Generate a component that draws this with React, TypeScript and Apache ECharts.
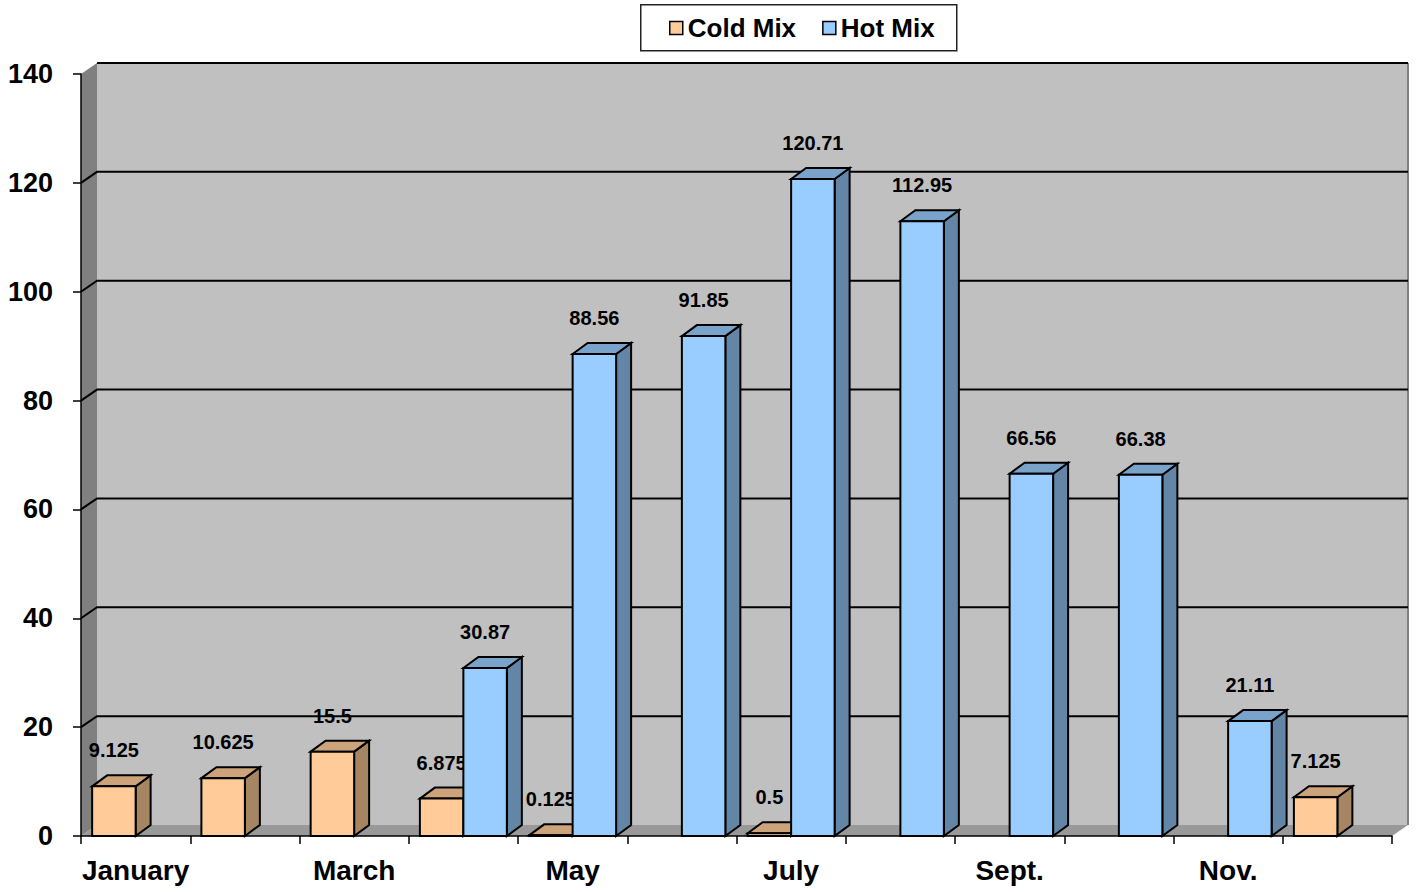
import React, { useEffect, useRef } from "react";
import * as echarts from "echarts";

const months = ["January", "February", "March", "April", "May", "June", "July", "August", "Sept.", "October", "Nov.", "December"];
const coldMix: (number | null)[] = [9.125, 10.625, 15.5, 6.875, 0.125, null, 0.5, null, null, null, null, 7.125];
const hotMix: (number | null)[] = [null, null, null, 30.87, 88.56, 91.85, 120.71, 112.95, 66.56, 66.38, 21.11, null];
const yTicks = [0, 20, 40, 60, 80, 100, 120, 140];
const seriesNames = ["Cold Mix", "Hot Mix"];

const FONT = '"Liberation Sans", Arial, sans-serif';
const DX = 15;
const DY = -11;
const WDX = 16;
const WDY = -11;

const palettes = [
  { front: "#FFCC99", top: "#CCA37A", side: "#A68563" },
  { front: "#99CCFF", top: "#7AA3CC", side: "#6385A6" },
];

function toData(arr: (number | null)[]) {
  const out: number[][] = [];
  arr.forEach((v, i) => {
    if (v !== null) out.push([i, v]);
  });
  return out;
}

function makeBarRender(side: number) {
  const pal = palettes[side];
  return (params: any, api: any) => {
    const idx = api.value(0);
    const v = api.value(1);
    const [cx, yTop] = api.coord([idx, v]);
    const y0 = api.coord([idx, 0])[1];
    const band = api.size([1, 0])[0];
    const bw = band * 0.398;
    const l = side === 0 ? cx - bw : cx;
    const r = l + bw;
    const stroke = { stroke: "#000", lineWidth: 2, lineJoin: "miter" };
    return {
      type: "group",
      children: [
        {
          type: "polygon",
          shape: { points: [[r, yTop], [r + DX, yTop + DY], [r + DX, y0 + DY], [r, y0]] },
          style: { fill: pal.side, ...stroke },
        },
        {
          type: "polygon",
          shape: { points: [[l, yTop], [l + DX, yTop + DY], [r + DX, yTop + DY], [r, yTop]] },
          style: { fill: pal.top, ...stroke },
        },
        {
          type: "rect",
          shape: { x: l, y: yTop, width: bw, height: y0 - yTop },
          style: { fill: pal.front, ...stroke },
        },
        {
          type: "text",
          x: l + bw / 2,
          y: yTop - 36,
          style: {
            text: String(v),
            fill: "#000",
            font: `bold 20px ${FONT}`,
            align: "center",
            verticalAlign: "middle",
          },
        },
      ],
    };
  };
}

function renderWalls(params: any, api: any) {
  const cs = params.coordSys;
  const x = cs.x;
  const y = cs.y;
  const w = cs.width;
  const h = cs.height;
  const children: any[] = [
    {
      type: "rect",
      shape: { x: x + WDX, y: y + WDY, width: w, height: h },
      style: { fill: "#C0C0C0" },
    },
    {
      type: "polygon",
      shape: { points: [[x, y], [x + WDX, y + WDY], [x + WDX, y + h + WDY], [x, y + h]] },
      style: { fill: "#808080" },
    },
    {
      type: "polygon",
      shape: { points: [[x, y + h], [x + WDX, y + h + WDY], [x + w + WDX, y + h + WDY], [x + w, y + h]] },
      style: { fill: "#999999" },
    },
    {
      type: "line",
      shape: { x1: x + w + WDX, y1: y + WDY, x2: x + w + WDX, y2: y + h + WDY },
      style: { stroke: "#808080", lineWidth: 2 },
    },
  ];
  yTicks.forEach((t) => {
    if (t === 0) return;
    const yy = api.coord([0, t])[1];
    const isTop = t === yTicks[yTicks.length - 1];
    const pts = isTop
      ? [[x + WDX, yy + WDY], [x + w + WDX, yy + WDY]]
      : [[x, yy], [x + WDX, yy + WDY], [x + w + WDX, yy + WDY]];
    children.push({
      type: "polyline",
      shape: { points: pts },
      style: { stroke: "#000", lineWidth: 2, fill: null },
    });
  });
  return { type: "group", children };
}

export default function App() {
  const ref = useRef<HTMLDivElement>(null);
  useEffect(() => {
    if (!ref.current) return;
    const chart = echarts.init(ref.current, undefined, { renderer: "svg" });
    chart.setOption({
      animation: false,
      backgroundColor: "#ffffff",
      textStyle: { fontFamily: FONT },
      grid: { left: 81, right: 27, top: 74, bottom: 56, containLabel: false },
      graphic: [
        {
          type: "rect",
          left: 640,
          top: 4,
          z: -10,
          shape: { width: 316, height: 46 },
          style: { fill: "#fff", stroke: "#222", lineWidth: 1.5 },
        },
      ],
      legend: {
        data: seriesNames,
        left: 664,
        top: 10,
        itemWidth: 13,
        itemHeight: 13,
        itemGap: 26,
        icon: "rect",
        itemStyle: { borderColor: "#000", borderWidth: 1.5 },
        textStyle: { fontSize: 26, fontWeight: "bold", color: "#000", fontFamily: FONT },
      },
      xAxis: {
        type: "category",
        data: months,
        boundaryGap: true,
        axisLine: { show: true, lineStyle: { color: "#000", width: 1.5 } },
        axisTick: { show: true, interval: 0, length: 8, lineStyle: { color: "#000", width: 1.5 } },
        axisLabel: {
          interval: 1,
          fontSize: 28,
          fontWeight: "bold",
          color: "#000",
          margin: 20,
          fontFamily: FONT,
        },
        splitLine: { show: false },
      },
      yAxis: {
        type: "value",
        min: 0,
        max: 140,
        interval: 20,
        axisLine: { show: true, lineStyle: { color: "#000", width: 1.5 } },
        axisTick: { show: true, length: 8, lineStyle: { color: "#000", width: 1.5 } },
        axisLabel: {
          fontSize: 27,
          fontWeight: "bold",
          color: "#000",
          margin: 28,
          fontFamily: FONT,
        },
        splitLine: { show: false },
      },
      series: [
        {
          type: "custom",
          name: "walls",
          silent: true,
          z: 0,
          data: [[0, 0]],
          renderItem: renderWalls,
        },
        {
          type: "custom",
          name: seriesNames[0],
          z: 2,
          itemStyle: { color: palettes[0].front },
          data: toData(coldMix),
          renderItem: makeBarRender(0),
        },
        {
          type: "custom",
          name: seriesNames[1],
          z: 3,
          itemStyle: { color: palettes[1].front },
          data: toData(hotMix),
          renderItem: makeBarRender(1),
        },
      ],
    });
    return () => chart.dispose();
  }, []);
  return (
    <div
      ref={ref}
      style={{ position: "fixed", left: 0, top: 0, width: "1419px", height: "892px" }}
    />
  );
}
